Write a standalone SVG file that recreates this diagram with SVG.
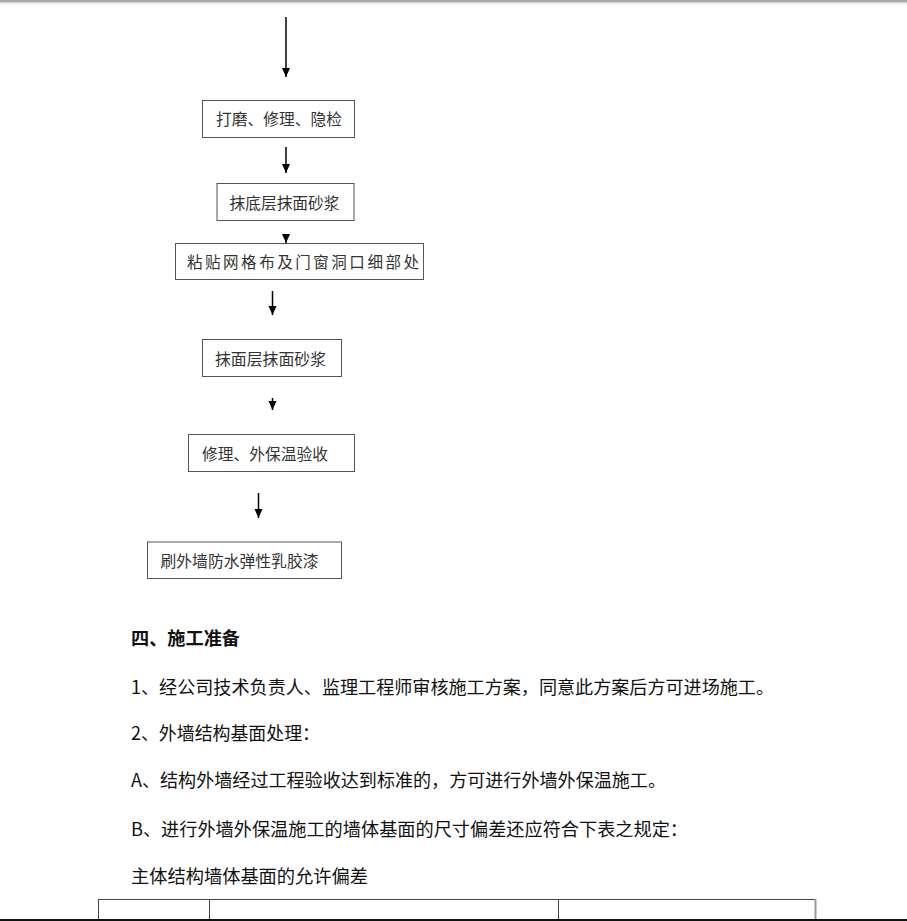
<svg xmlns="http://www.w3.org/2000/svg" width="907" height="921" viewBox="0 0 907 921">
<defs>
<marker id="ah" markerUnits="userSpaceOnUse" markerWidth="10" markerHeight="10" refX="9" refY="4" orient="auto">
<path d="M0,0 L9,4 L0,8 Z" fill="#000"/>
</marker>
<style>
.box{fill:#fff;stroke:#555;stroke-width:1}
.bt{font-family:"Noto Sans CJK SC","Noto Sans",sans-serif;font-size:15.5px;fill:#333}
.body{font-family:"Noto Sans CJK SC","Noto Sans",sans-serif;font-size:18px;fill:#111}
.conn{stroke:#000;stroke-width:1.5;fill:none;marker-end:url(#ah)}
.tbl{stroke:#444;stroke-width:1;fill:none}
</style>
</defs>
<rect x="0" y="0" width="907" height="921" fill="#fff"/>
<rect x="0" y="0" width="907" height="2" fill="#a8a8a8"/>
<rect x="0" y="2" width="907" height="1.5" fill="#d4d4d4"/>

<g id="connectors">
<line class="conn" x1="286" y1="17" x2="286" y2="77"/>
<line class="conn" x1="286" y1="147" x2="286" y2="173"/>
<line class="conn" x1="286" y1="234" x2="286" y2="243"/>
<line class="conn" x1="272.5" y1="291" x2="272.5" y2="315"/>
<line class="conn" x1="272.5" y1="398" x2="272.5" y2="410"/>
<line class="conn" x1="258.5" y1="493" x2="258.5" y2="518"/>
</g>

<g id="n1"><rect class="box" x="202.5" y="100.5" width="152" height="37"/><text class="bt" x="216" y="125" textLength="126" lengthAdjust="spacingAndGlyphs">打磨、修理、隐检</text></g>
<g id="n2"><rect class="box" x="217" y="183.5" width="137" height="37"/><text class="bt" x="229.5" y="209" textLength="110" lengthAdjust="spacingAndGlyphs">抹底层抹面砂浆</text></g>
<g id="n3"><rect class="box" x="175.5" y="243.5" width="248" height="36"/><text class="bt" x="187" y="268" textLength="232" lengthAdjust="spacing">粘贴网格布及门窗洞口细部处</text></g>
<g id="n4"><rect class="box" x="202.5" y="339.5" width="139" height="37"/><text class="bt" x="215" y="364.5" textLength="111" lengthAdjust="spacingAndGlyphs">抹面层抹面砂浆</text></g>
<g id="n5"><rect class="box" x="188.5" y="434.5" width="166" height="37"/><text class="bt" x="202" y="459.5" textLength="126" lengthAdjust="spacingAndGlyphs">修理、外保温验收</text></g>
<g id="n6"><rect class="box" x="147.5" y="542" width="194" height="36.5"/><text class="bt" x="160.5" y="566.5" textLength="158" lengthAdjust="spacingAndGlyphs">刷外墙防水弹性乳胶漆</text></g>

<g id="body">
<text class="body" x="131" y="645" font-weight="bold" textLength="109" lengthAdjust="spacingAndGlyphs">四、施工准备</text>
<text class="body" x="131" y="694" textLength="643" lengthAdjust="spacingAndGlyphs">1、经公司技术负责人、监理工程师审核施工方案，同意此方案后方可进场施工。</text>
<text class="body" x="131" y="740" textLength="189" lengthAdjust="spacingAndGlyphs">2、外墙结构基面处理：</text>
<text class="body" x="131" y="787" textLength="535" lengthAdjust="spacingAndGlyphs">A、结构外墙经过工程验收达到标准的，方可进行外墙外保温施工。</text>
<text class="body" x="131" y="836" textLength="557" lengthAdjust="spacingAndGlyphs">B、进行外墙外保温施工的墙体基面的尺寸偏差还应符合下表之规定：</text>
<text class="body" x="131" y="883" textLength="237" lengthAdjust="spacingAndGlyphs">主体结构墙体基面的允许偏差</text>
</g>

<g id="table">
<line class="tbl" x1="98" y1="899.5" x2="816" y2="899.5"/>
<line class="tbl" x1="98.5" y1="899" x2="98.5" y2="919"/>
<line class="tbl" x1="209.5" y1="899" x2="209.5" y2="919"/>
<line class="tbl" x1="558.5" y1="899" x2="558.5" y2="919"/>
<line x1="815.5" y1="899" x2="815.5" y2="919" stroke="#999" stroke-width="2"/>
</g>
<rect x="0" y="919" width="907" height="2" fill="#111"/>
</svg>
